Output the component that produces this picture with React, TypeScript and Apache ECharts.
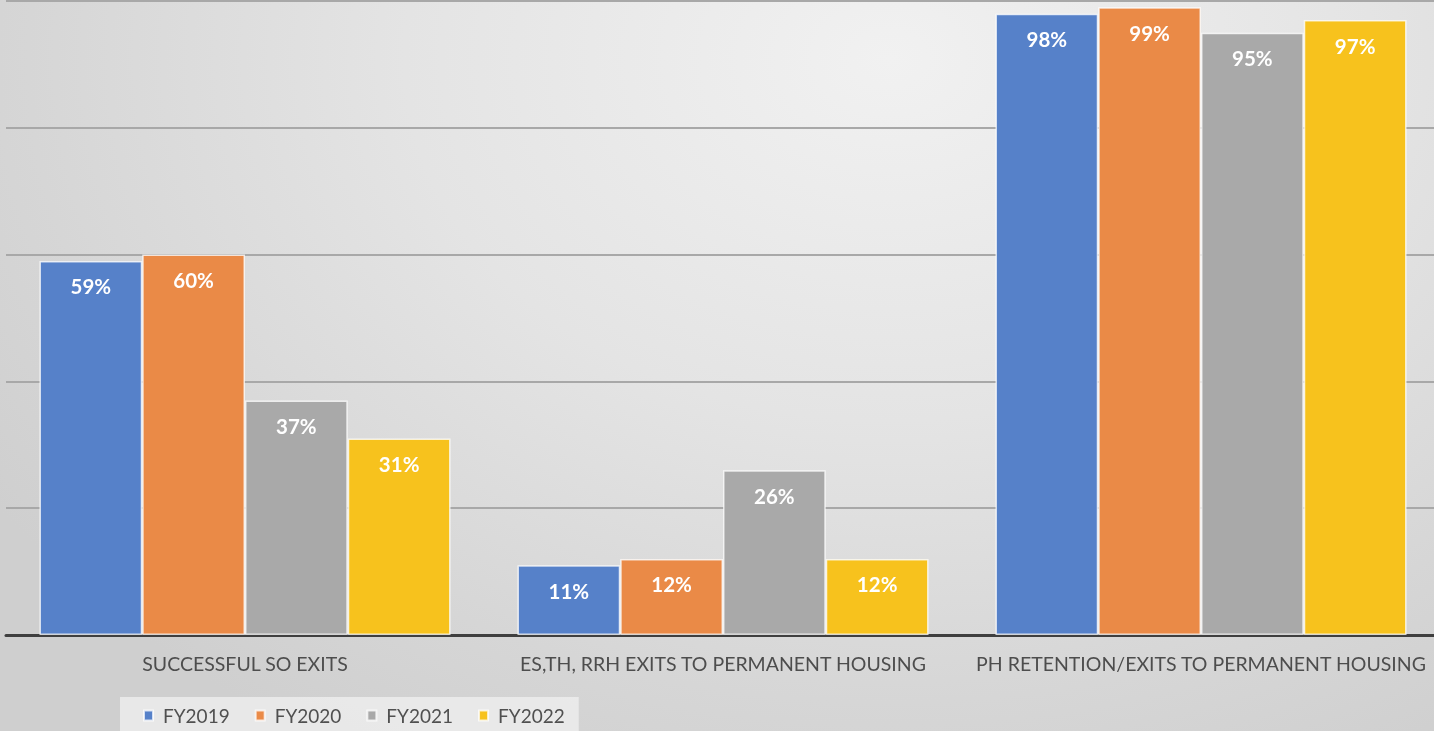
import React, { useEffect, useRef } from "react";
import * as echarts from "echarts";

const categories = [
  "SUCCESSFUL SO EXITS",
  "ES,TH, RRH EXITS TO PERMANENT HOUSING",
  "PH RETENTION/EXITS TO PERMANENT HOUSING",
];
const seriesNames = ["FY2019", "FY2020", "FY2021", "FY2022"];
const fy2019 = [59, 11, 98];
const fy2020 = [60, 12, 99];
const fy2021 = [37, 26, 95];
const fy2022 = [31, 12, 97];
const seriesValues = [fy2019, fy2020, fy2021, fy2022];
const colors = ["#5681c9", "#ea8a47", "#a9a9a9", "#f7c21d"];

const FONT = "Lato, 'Open Sans', sans-serif";

export default function App() {
  const ref = useRef<HTMLDivElement>(null);
  useEffect(() => {
    if (!ref.current) return;
    const chart = echarts.init(ref.current, null, { renderer: "svg" });
    chart.setOption({
      animation: false,
      color: colors,
      grid: {
        left: 6,
        top: 1,
        width: 1434,
        height: 634,
        containLabel: false,
        outerBoundsMode: "none",
      },
      legend: {
        left: 120,
        top: 697,
        orient: "horizontal",
        backgroundColor: "rgba(240,240,240,0.75)",
        padding: [9, 14, 10, 23],
        itemWidth: 9,
        itemHeight: 10,
        itemGap: 25,
        icon: "rect",
        textStyle: { color: "#505050", fontSize: 19, fontFamily: FONT, padding: [0, 0, 0, 5] },
        data: seriesNames,
      },
      xAxis: {
        type: "category",
        data: categories,
        axisLine: { show: true, lineStyle: { color: "#3f3f3f", width: 3 } },
        axisTick: { show: false },
        axisLabel: {
          color: "#4d4d4d",
          fontSize: 19.5,
          fontFamily: FONT,
          margin: 18,
          interval: 0,
        },
      },
      yAxis: {
        type: "value",
        min: 0,
        max: 100,
        interval: 20,
        axisLabel: { show: false },
        axisLine: { show: false },
        axisTick: { show: false },
        splitLine: { show: true, lineStyle: { color: "#a8a8a8", width: 2 } },
      },
      series: seriesValues.map((vals, i) => ({
        name: seriesNames[i],
        type: "bar",
        data: vals,
        barGap: "0%",
        barCategoryGap: "14%",
        itemStyle: { color: colors[i], borderColor: "rgba(255,255,255,0.75)", borderWidth: 1.5 },
        label: {
          show: true,
          position: "insideTop",
          distance: 15,
          color: "#ffffff",
          fontSize: 20.5,
          fontWeight: "bold",
          fontFamily: FONT,
          formatter: "{c}%",
        },
      })),
    });
    return () => chart.dispose();
  }, []);
  return (
    <div
      style={{
        position: "fixed",
        left: 0,
        top: 0,
        width: 1434,
        height: 731,
        overflow: "hidden",
        background:
          "radial-gradient(ellipse 75% 110% at 62% 8%, #f1f1f1 0%, #e4e4e4 45%, #d6d6d6 80%, #cfcfcf 100%)",
      }}
    >
      <div ref={ref} style={{ width: 1434, height: 731 }} />
    </div>
  );
}
